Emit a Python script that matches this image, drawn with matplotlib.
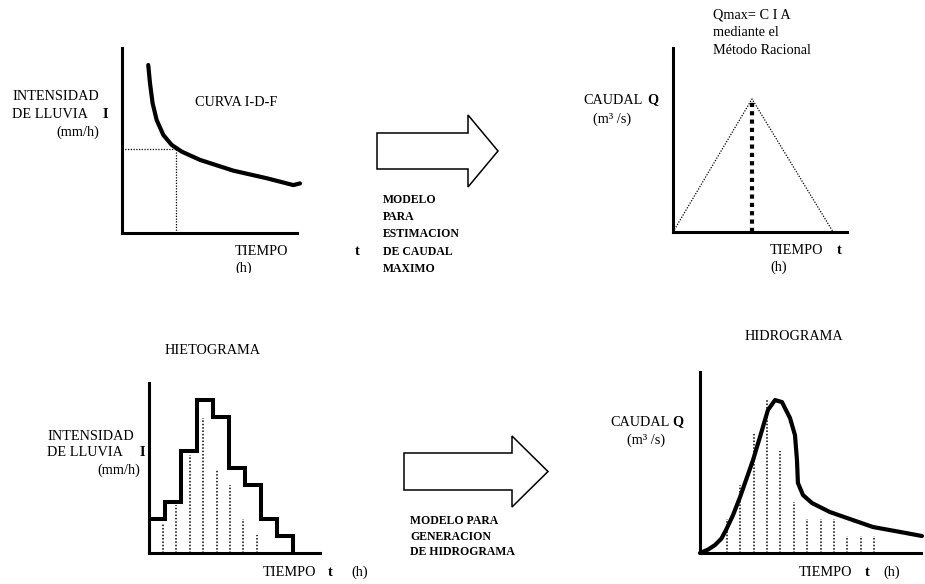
import matplotlib
matplotlib.use("Agg")
from matplotlib import pyplot as plt
from matplotlib.patches import FancyArrow
from matplotlib.transforms import Bbox

plt.rcParams['font.family'] = ['Liberation Serif', 'DejaVu Serif']
plt.rcParams['font.size'] = 10.3

W, H = 925, 584

# curva I-D-F (tiempo, intensidad)
idf_t = [1.50, 1.60, 1.75, 1.98, 2.36, 2.84, 3.41, 4.46, 6.36, 8.27, 9.79, 10.17]
idf_i = [90.8, 80.9, 70.1, 61.1, 53.0, 47.6, 44.0, 39.5, 33.7, 29.6, 25.9, 26.8]
idf_tc = 3.09
idf_ic = 45.4

# hidrograma triangular del metodo racional
rac_t = [0, 4.54, 9.2]
rac_q = [0, 72.3, 0]

# hietograma
hiet_edges = [0, 1, 2, 3, 4, 5, 6, 7, 8, 9]
hiet_i = [2, 3, 6, 9, 8, 5, 4, 2, 1]
hiet_dot_t = [0.875, 1.69, 2.56, 3.38, 4.25, 5.06, 5.88, 6.75]
hiet_dot_i = [1.76, 2.82, 5.76, 7.94, 4.94, 4.0, 2.0, 1.06]

# hidrograma
hid_t = [0, 0.6, 1.12, 1.6, 1.94, 2.45, 2.99, 3.96, 4.63, 5.07, 5.6, 6.12, 6.72,
         7.09, 7.24, 7.31, 7.69, 8.36, 9.7, 11.19, 12.91, 14.93, 16.57]
hid_q = [0, 0.2, 0.47, 0.85, 1.35, 2.2, 3.29, 5.47, 7.23, 8.41, 9.0, 8.88, 7.94,
         6.94, 5.47, 4.12, 3.41, 2.94, 2.41, 2.0, 1.53, 1.24, 1.0]
hid_dot_t = [2, 3, 4, 5, 6, 7, 8, 9, 10, 11, 12, 13]
hid_dot_q = [2, 4, 7, 9, 6, 3, 2, 2, 2, 1, 1, 1]

fig = plt.figure(figsize=(W / 100, H / 100), dpi=100)


def panel(l, t, r, b, xlim, ylim):
    ax = fig.add_axes([l / W, 1 - b / H, (r - l) / W, (b - t) / H])
    ax.set_xlim(*xlim)
    ax.set_ylim(*ylim)
    ax.patch.set_alpha(0)
    for s in ['top', 'right']:
        ax.spines[s].set_visible(False)
    for s in ['left', 'bottom']:
        ax.spines[s].set_linewidth(2.2)
        ax.spines[s].set_capstyle('projecting')
    ax.set_xticks([])
    ax.set_yticks([])
    return ax


def label(x, y, s, **kw):
    return fig.text(x / W, 1 - y / H, s, va='center', **kw)


dot = (0, (1, 1.2))

# panel 1: curva I-D-F
ax1 = panel(122, 48, 297, 233, (0, 10), (0, 100))
ax1.plot(idf_t, idf_i, color='black', lw=3, clip_on=False,
         solid_capstyle='round', solid_joinstyle='round')
ax1.plot([0, idf_tc], [idf_ic, idf_ic], color='black', lw=0.9, ls=dot)
ax1.plot([idf_tc, idf_tc], [0, idf_ic], color='black', lw=0.9, ls=dot)

# panel 2: metodo racional
ax2 = panel(673, 48, 847, 232, (0, 10), (0, 100))
ax2.plot(rac_t, rac_q, color='black', lw=0.9, ls=dot)
ax2.plot([rac_t[1], rac_t[1]], [0, rac_q[1]], color='black', lw=3,
         ls=(0, (1, 1)), dash_capstyle='butt')

# panel 3: hietograma
ax3 = panel(149, 383, 320, 553, (0, 10.7), (0, 10))
for t, i in zip(hiet_dot_t, hiet_dot_i):
    ax3.plot([t, t], [0, i], color='black', lw=1.1, ls=dot)
ax3.stairs(hiet_i, hiet_edges, baseline=0, color='black', lw=2.9)

# panel 4: hidrograma
ax4 = panel(700, 372, 921, 553, (0, 16.5), (0, 10.65))
for t, q in zip(hid_dot_t, hid_dot_q):
    ax4.plot([t, t], [0, q], color='black', lw=1.1, ls=dot)
ax4.plot(hid_t, hid_q, color='black', lw=3, clip_on=False,
         solid_joinstyle='round', solid_capstyle='round')

# flechas
over = fig.add_axes([0, 0, 1, 1])
over.set_xlim(0, W)
over.set_ylim(H, 0)
over.axis('off')
over.add_patch(FancyArrow(377, 151, 121, 0, width=36, head_width=72, head_length=30,
                          length_includes_head=True, fill=False, ec='black', lw=1.1))
over.add_patch(FancyArrow(404, 471.5, 144, 0, width=37, head_width=71, head_length=36,
                          length_includes_head=True, fill=False, ec='black', lw=1.1))

# textos panel 1
label(12, 97, 'INTENSIDAD')
label(12, 114, 'DE LLUVIA')
label(103, 114, 'I', weight='bold')
label(99, 132, '(mm/h)', ha='right')
label(195, 102, 'CURVA I-D-F')
label(235, 252, 'TIEMPO')
label(355, 252, 't', weight='bold')
h1 = label(235, 268, '(h)')
h1.set_clip_box(Bbox.from_extents(0, H - 273, W, H))
h1.set_clip_on(True)

# textos panel 2
label(713, 15, 'Qmax= C I A')
label(713, 33, 'mediante el')
label(713, 50, 'Método Racional')
label(583, 100, 'CAUDAL')
label(647, 100, 'Q', weight='bold')
label(593, 119, '(m³ /s)')
label(770, 251, 'TIEMPO')
label(837, 251, 't', weight='bold')
label(770, 267, '(h)')

# textos flechas
for k, s in enumerate(['MODELO', 'PARA', 'ESTIMACION', 'DE CAUDAL', 'MAXIMO']):
    label(383, 200 + 17.2 * k, s, weight='bold', fontsize=8.5)
for k, s in enumerate(['MODELO PARA', 'GENERACION', 'DE HIDROGRAMA']):
    label(410, 521 + 15.5 * k, s, weight='bold', fontsize=8.5)

# textos panel 3
label(165, 351, 'HIETOGRAMA')
label(47, 436, 'INTENSIDAD')
label(47, 453, 'DE LLUVIA')
label(140, 453, 'I', weight='bold')
label(140, 470, '(mm/h)', ha='right')
label(263, 572, 'TIEMPO')
label(328, 572, 't', weight='bold')
label(351, 572, '(h)')

# textos panel 4
label(745, 336, 'HIDROGRAMA')
label(610, 422, 'CAUDAL')
label(672, 422, 'Q', weight='bold')
label(627, 440, '(m³ /s)')
label(799, 572, 'TIEMPO')
label(865, 572, 't', weight='bold')
label(883, 572, '(h)')

fig.savefig('out.png', dpi=100)
